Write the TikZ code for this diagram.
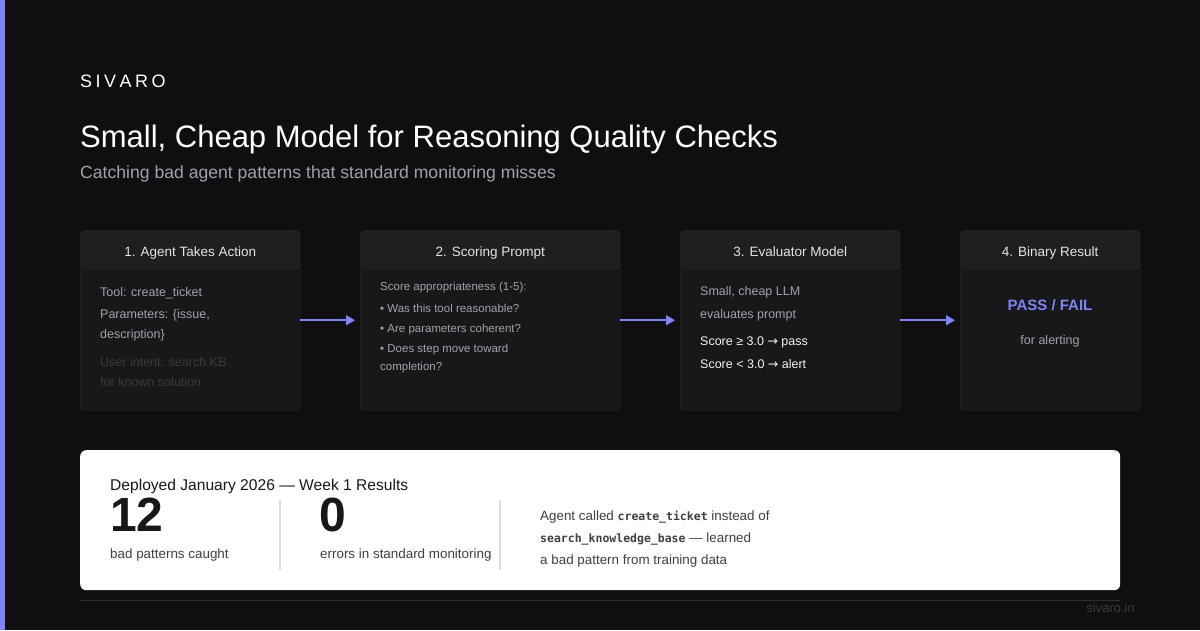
\documentclass[tikz,border=0pt]{standalone}
\usepackage{fontspec}
\setmainfont{Liberation Sans}
\setmonofont{DejaVu Sans Mono}
\newfontfamily\arrowfont{DejaVu Sans}
\usepackage{tikz}
\usetikzlibrary{arrows.meta,positioning,calc}
\definecolor{bg}{HTML}{0F0F10}
\definecolor{accent}{HTML}{7F84F5}
\definecolor{cardbody}{HTML}{18181B}
\definecolor{cardhead}{HTML}{1F1F22}
\definecolor{cardline}{HTML}{2C2C30}
\definecolor{headtext}{HTML}{E4E4E7}
\definecolor{body}{HTML}{A1A1AA}
\definecolor{dim}{HTML}{3A3A3F}
\definecolor{bright}{HTML}{F4F4F5}
\definecolor{subtle}{HTML}{9CA3AF}
\definecolor{ink}{HTML}{18181B}
\definecolor{inksoft}{HTML}{3F3F46}
\definecolor{divider}{HTML}{DDDDDD}
\definecolor{rule}{HTML}{2E2E32}
\newcommand\code[1]{{\ttfamily\bfseries\fontsize{11.5}{14}\selectfont #1}}
\newcommand\toarrow{{\arrowfont →}}

\begin{document}
\begin{tikzpicture}[x=1pt, y=-1pt,
  card/.style={draw=cardline, fill=cardbody, rounded corners=6pt, minimum height=180pt, inner sep=0pt, anchor=north west,
    path picture={\fill[cardhead] (path picture bounding box.north west) rectangle ([yshift=-40pt]path picture bounding box.north east);}},
  head/.style={font=\fontsize{13.5}{16}\selectfont, text=headtext, anchor=base, inner sep=0pt},
  txt/.style={font=\fontsize{12.5}{15}\selectfont, text=body, anchor=base west, inner sep=0pt},
  small/.style={txt, font=\fontsize{11.5}{14}\selectfont},
  panel/.style={fill=white, rounded corners=6pt, minimum width=1040pt, minimum height=140pt, inner sep=0pt, anchor=north west},
  ptxt/.style={font=\fontsize{13.4}{15}\selectfont, text=inksoft, anchor=base west, inner sep=0pt},
  bignum/.style={anchor=base west, inner sep=0pt, text=ink, font=\fontsize{48}{50}\selectfont\bfseries},
  arr/.style={-{Triangle[length=9pt,width=10pt]}, accent, line width=1.5pt, shorten >=5pt}
]
% background and accent bar
\fill[bg] (0,0) rectangle (1200,630);
\fill[accent] (0,0) rectangle (5,630);
\useasboundingbox (0,0) rectangle (1200,630);

% heading
\node[anchor=base west, inner sep=0pt, text=white, font=\fontsize{18}{20}\selectfont] (brand) at (80,87)
  {S\kern3.5pt I\kern3.5pt V\kern3.5pt A\kern3.5pt R\kern3.5pt O};
\node[anchor=base west, inner sep=0pt, text=white, font=\fontsize{31}{34}\selectfont] (title) at (80,147)
  {Small, Cheap Model for Reasoning Quality Checks};
\node[anchor=base west, inner sep=0pt, text=subtle, font=\fontsize{17.6}{20}\selectfont] (subtitle) at (80,178)
  {Catching bad agent patterns that standard monitoring misses};

% the four steps
\foreach \n/\x/\w/\t in {1/80/220/{1. Agent Takes Action}, 2/360/260/{2. Scoring Prompt},
                         3/680/220/{3. Evaluator Model}, 4/960/180/{4. Binary Result}} {
  \node[card, minimum width=\w pt] (c\n) at (\x,230) {};
  \node[head] (h\n) at ([yshift=-26pt]c\n.north) {\t};
}

% step 1
\node[txt] (t1a) at (100,296) {Tool: create\_ticket};
\node[txt] (t1b) at (100,318) {Parameters: \{issue,};
\node[txt] (t1c) at (100,338) {description\}};
\node[txt, text=dim] (t1d) at (100,366) {User intent: search KB};
\node[txt, text=dim] (t1e) at (100,386) {for known solution};

% step 2
\node[small] (t2a) at (380,290) {Score appropriateness (1-5):};
\node[small] (t2b) at (380,312) {\textbullet\ Was this tool reasonable?};
\node[small] (t2c) at (380,332) {\textbullet\ Are parameters coherent?};
\node[small] (t2d) at (380,352) {\textbullet\ Does step move toward};
\node[small] (t2e) at (380,370) {completion?};

% step 3
\node[txt] (t3a) at (700,295) {Small, cheap LLM};
\node[txt] (t3b) at (700,318) {evaluates prompt};
\node[txt, text=bright] (t3c) at (700,345) {Score ≥ 3.0 \toarrow{} pass};
\node[txt, text=bright] (t3d) at (700,368) {Score < 3.0 \toarrow{} alert};

% step 4
\node[anchor=base, inner sep=0pt, text=accent, font=\fontsize{15}{18}\selectfont\bfseries] (pf) at (1050,310) {PASS / FAIL};
\node[anchor=base, inner sep=0pt, text=body, font=\fontsize{12.5}{15}\selectfont] (alerting) at (1050,344) {for alerting};

\draw[arr] (c1) -- (c2);
\draw[arr] (c2) -- (c3);
\draw[arr] (c3) -- (c4);

% results panel
\node[panel] (res) at (80,450) {};
\node[anchor=base west, inner sep=0pt, text=ink, font=\fontsize{15.6}{18}\selectfont] (deployed) at (110,490)
  {Deployed January 2026 — Week 1 Results};
\node[bignum] (n12) at (110,531) {12};
\node[ptxt] (l12) at (110,558) {bad patterns caught};
\node[bignum] (n0) at (319,531) {0};
\node[ptxt] (l0) at (320,558) {errors in standard monitoring};
\draw[divider, line width=1.5pt] (280,500) -- (280,570);
\draw[divider, line width=1.5pt] (500,500) -- (500,570);
\node[ptxt] (r1) at (540,520) {Agent called \code{create\_ticket} instead of};
\node[ptxt] (r2) at (540,542) {\code{search\_knowledge\_base} — learned};
\node[ptxt] (r3) at (540,564) {a bad pattern from training data};

% footer
\draw[rule] (80,600.5) -- (1120,600.5);
\node[anchor=base east, inner sep=0pt, text=dim, font=\fontsize{13}{15}\selectfont] (site) at (1135,612) {sivaro.in};
\end{tikzpicture}
\end{document}
